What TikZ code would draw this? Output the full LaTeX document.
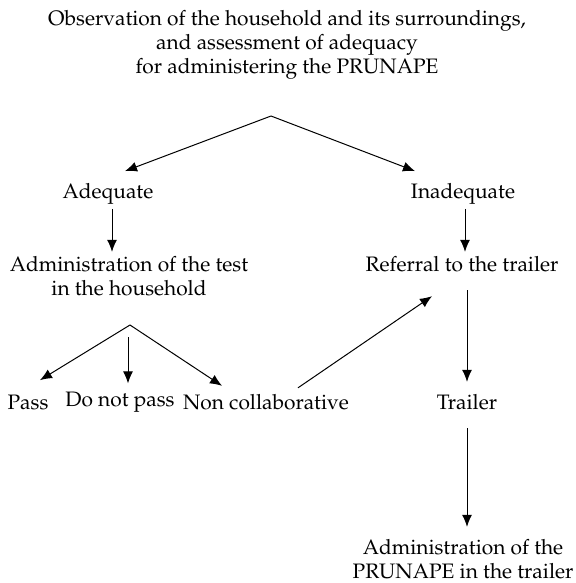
\documentclass[tikz,border=0pt]{standalone}
\usepackage[T1]{fontenc}
\usepackage{mathpazo}
\usetikzlibrary{arrows.meta,calc}
\tikzset{
    txt/.style =    {align=center,
                    text=black,
                    font={\fontsize{10.45}{12}\selectfont},
                    inner sep=1pt},
    flow/.style =   {draw=black,
                    line width=0.5pt,
                    -{Latex[length=6pt,width=5pt]}},
    -,
    x=0.5pt,
    y=-0.5pt}

\begin{document}
\begin{tikzpicture}
                    \useasboundingbox (0,0) rectangle (575,583);
                    \node[txt]       (obs)     at (287,45)   {Observation of the household and its surroundings,\\ and assessment of adequacy\\ for administering the PRUNAPE};
                    \coordinate      (top)     at (271,116);
                    \node[txt]       (ade)     at (108,194)  {Adequate};
                    \node[txt]       (inade)   at (463,194)  {Inadequate};
                    \node[txt]       (test)    at (129,276)  {Administration of the test\\ in the household};
                    \node[txt]       (ref)     at (462,264)  {Referral to the trailer};
                    \coordinate      (fork)    at (130,325);
                    \coordinate      (forkmid) at (128,337);
                    \node[txt]       (pass)    at (28,402)   {Pass};
                    \node[txt]       (nopass)  at (120,402)  {Do not pass};
                    \node[txt]       (noncol)  at (266,402)  {Non collaborative};
                    \node[txt]       (trailer) at (467,402)  {Trailer};
                    \node[txt]       (admin)   at (463,559)  {Administration of the\\ PRUNAPE in the trailer};
                    % first choice
                    \draw[flow] (top) -- ($(ade.north)+(17,-10)$);
                    \draw[flow] (top) -- ($(inade.north)+(-48,-10)$);
                    \draw[flow] ($(ade.south)+(4,2)$) -- ($(ade.south |- ref.north)+(4,-2)$);
                    \draw[flow] ($(inade.south)+(2,2)$) -- ($(ref.north)+(3,-2)$);
                    % results in the household
                    \draw[flow] (fork) -- ($(pass.north)+(12,-12)$);
                    \draw[flow] (forkmid) -- ($(nopass.north)+(8,-6)$);
                    \draw[flow] (fork) -- ($(noncol.north)+(-44,-6)$);
                    \draw[flow] ($(noncol.north)+(32,-4)$) -- ($(ref.south)+(-30,22)$);
                    % trailer
                    \draw[flow] ($(ref.south)+(5,16)$) -- ($(trailer.north)+(0,-10)$);
                    \draw[flow] ($(trailer.south)+(0,16)$) -- ($(admin.north)+(4,-10)$);
\end{tikzpicture}
\end{document}
